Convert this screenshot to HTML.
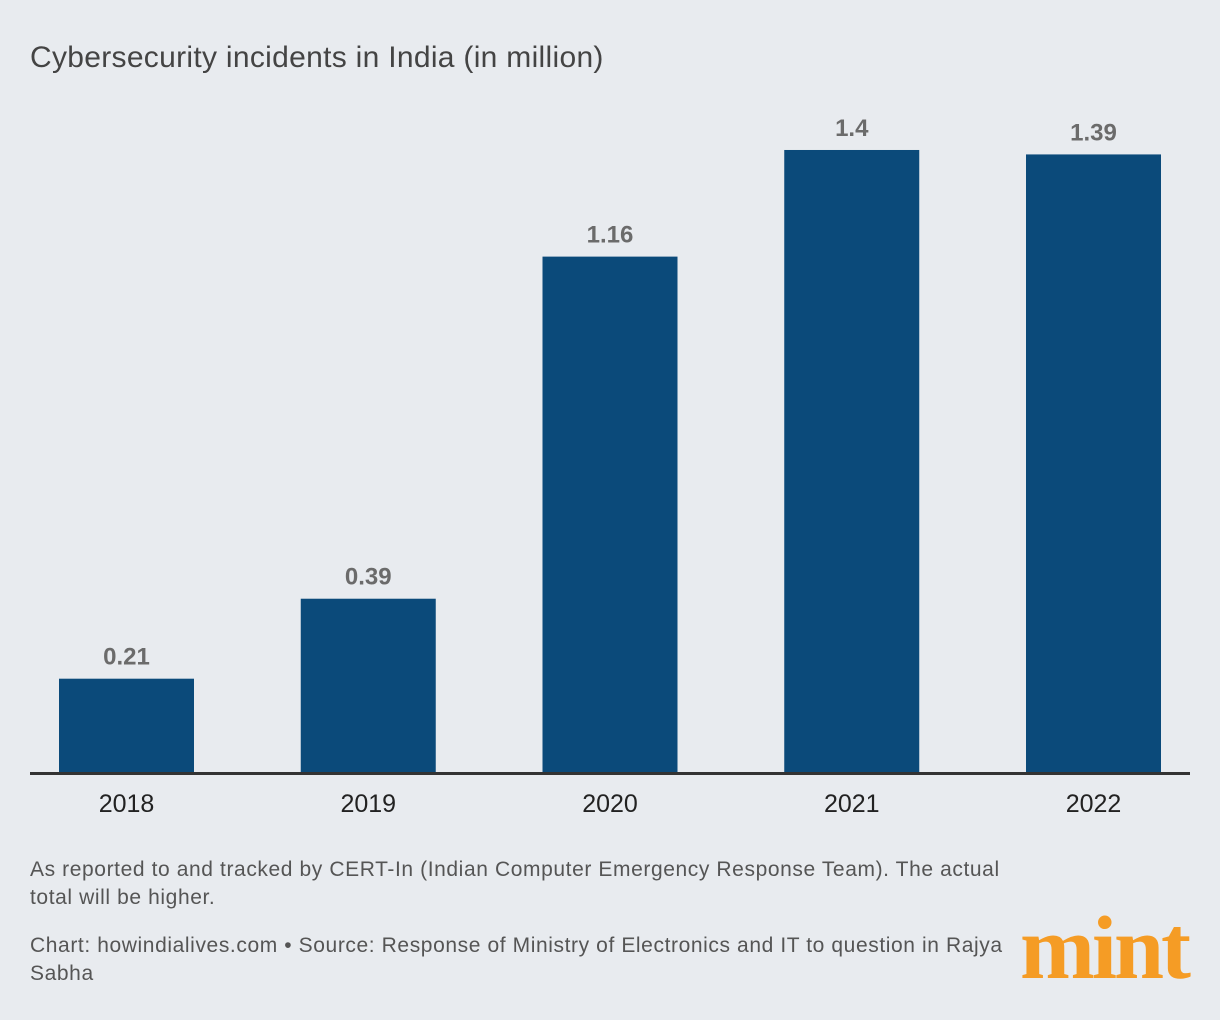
<!DOCTYPE html>
<html><head><meta charset="utf-8"><style>
body{margin:0;width:1220px;height:1020px;background:#e8ebef;font-family:"Liberation Sans",sans-serif;overflow:hidden;position:relative}
.t{position:absolute;color:#333}
</style></head><body>
<div class="t" style="left:30px;top:41px;font-size:30px;letter-spacing:0.3px;color:#444">Cybersecurity incidents in India (in million)</div>
<svg id="c" width="1220" height="840" style="position:absolute;left:0;top:0"></svg>
<div class="t" style="left:30px;top:856px;font-size:21px;line-height:28px;letter-spacing:0.6px;color:#555;width:1012px">As reported to and tracked by CERT-In (Indian Computer Emergency Response Team). The actual total will be higher.</div>
<div class="t" style="left:30px;top:932px;font-size:21px;line-height:28px;letter-spacing:0.6px;color:#555;width:1012px">Chart: howindialives.com • Source: Response of Ministry of Electronics and IT to question in Rajya Sabha</div>
<div class="t" style="left:1020px;top:904px;font-family:'Liberation Serif',serif;font-weight:bold;font-size:90px;color:#f59c25;letter-spacing:-3px;line-height:90px">mint</div>
<script>
const categories=["2018","2019","2020","2021","2022"];
const values=[0.21,0.39,1.16,1.4,1.39];
const labels=["0.21","0.39","1.16","1.4","1.39"];
const svg=document.getElementById('c');const NS='http://www.w3.org/2000/svg';
const base=772,k=444.3;
const y=v=>base-v*k;
const x=i=>59+i*241.75;
const bw=135;
function mk(t,a){const e=document.createElementNS(NS,t);for(const n in a)e.setAttribute(n,a[n]);svg.appendChild(e);return e;}
categories.forEach((c,i)=>{
 const r=mk('rect',{x:x(i),y:y(values[i]),width:bw,height:base-y(values[i]),fill:'#0b4a7a'});
 
 
 const l=mk('text',{x:x(i)+bw/2,y:y(values[i])-14,'text-anchor':'middle','font-size':24,'font-weight':'bold',fill:'#6b6b6b','font-family':'Liberation Sans'});
 l.textContent=labels[i];
 
 
 const t=mk('text',{x:x(i)+bw/2,y:812,'text-anchor':'middle','font-size':25,fill:'#222','font-family':'Liberation Sans'});
 t.textContent=c;
 
 
});
const ax=mk('rect',{x:30,y:772,width:1160,height:3,fill:'#333'});


</script>
</body></html>
